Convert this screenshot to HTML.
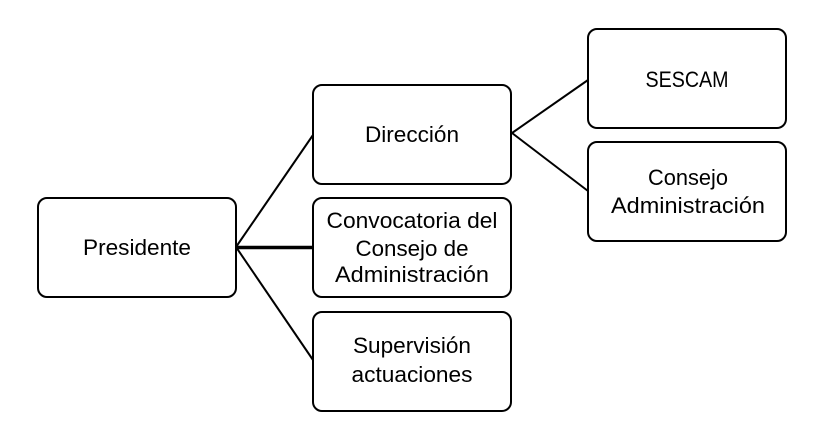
<!DOCTYPE html>
<html><head><meta charset="utf-8"><style>
html,body{margin:0;padding:0;background:#fff;}
svg{display:block;}
text{font-family:"Liberation Sans",sans-serif;font-size:22.5px;fill:#000;}
</style></head><body>
<svg width="840" height="433" viewBox="0 0 840 433" xmlns="http://www.w3.org/2000/svg">
<g fill="none" stroke="#000" stroke-width="2">
<rect x="38" y="198" width="198" height="99" rx="9"/>
<rect x="313" y="85" width="198" height="99" rx="9"/>
<rect x="313" y="198" width="198" height="99" rx="9"/>
<rect x="313" y="312" width="198" height="99" rx="9"/>
<rect x="588" y="29" width="198" height="99" rx="9"/>
<rect x="588" y="142" width="198" height="99" rx="9"/>
<line x1="236" y1="247" x2="313" y2="135"/>
<line x1="236" y1="247" x2="313" y2="360"/>
<line x1="512" y1="133" x2="588" y2="80"/>
<line x1="512" y1="133" x2="588" y2="191"/>
</g>
<line x1="236" y1="247.5" x2="313" y2="247.5" stroke="#000" stroke-width="3.5"/>
<g text-anchor="middle">
<text x="137" y="255" textLength="108" lengthAdjust="spacingAndGlyphs">Presidente</text>
<text x="412" y="142" textLength="94" lengthAdjust="spacingAndGlyphs">Dirección</text>
<text x="412" y="228" textLength="171" lengthAdjust="spacingAndGlyphs">Convocatoria del</text>
<text x="412" y="256" textLength="113" lengthAdjust="spacingAndGlyphs">Consejo de</text>
<text x="412" y="282" textLength="154" lengthAdjust="spacingAndGlyphs">Administración</text>
<text x="412" y="353" textLength="118" lengthAdjust="spacingAndGlyphs">Supervisión</text>
<text x="412" y="382" textLength="121" lengthAdjust="spacingAndGlyphs">actuaciones</text>
<text x="687" y="87" textLength="83" lengthAdjust="spacingAndGlyphs">SESCAM</text>
<text x="688" y="185" textLength="80" lengthAdjust="spacingAndGlyphs">Consejo</text>
<text x="688" y="213" textLength="154" lengthAdjust="spacingAndGlyphs">Administración</text>
</g>
</svg>
</body></html>
